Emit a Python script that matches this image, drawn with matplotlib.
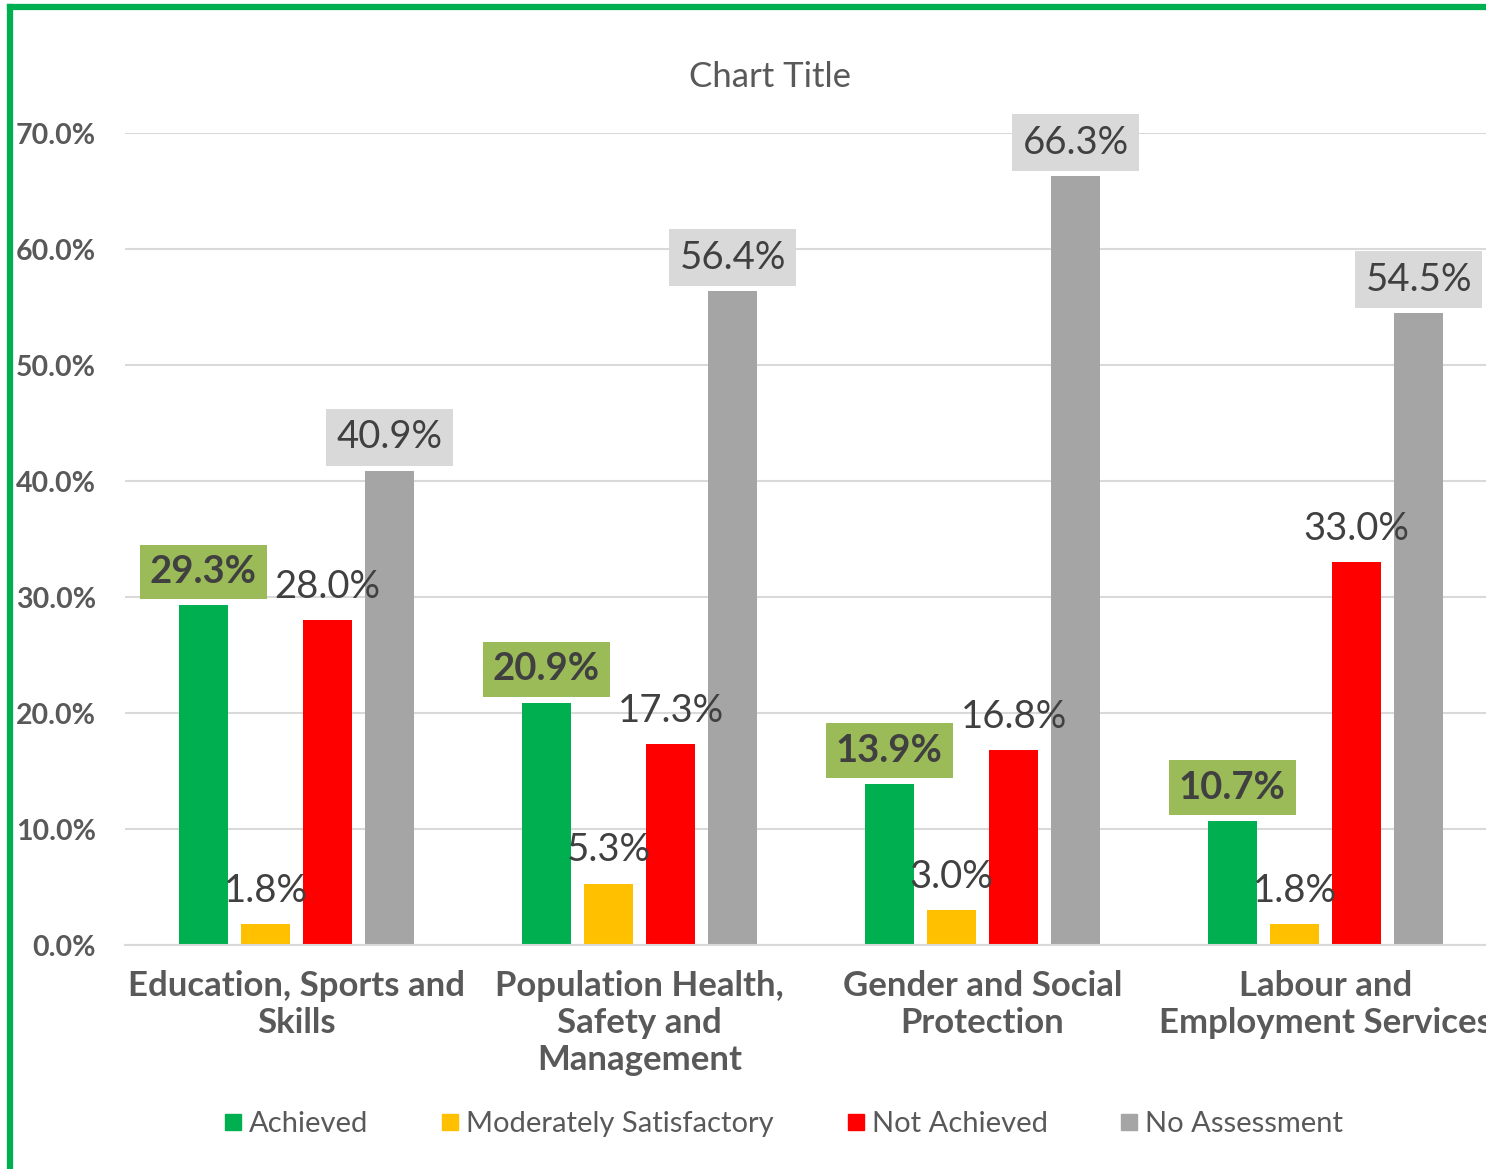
import matplotlib.pyplot as plt
import numpy as np
from matplotlib.lines import Line2D

plt.rcParams['font.family'] = ['Lato', 'DejaVu Sans']

# Dados
categorias = ['Education, Sports and\nSkills',
              'Population Health,\nSafety and\nManagement',
              'Gender and Social\nProtection',
              'Labour and\nEmployment Services']
series = ['Achieved', 'Moderately Satisfactory', 'Not Achieved', 'No Assessment']
achieved = [29.3, 20.9, 13.9, 10.7]
moderately = [1.8, 5.3, 3.0, 1.8]
not_achieved = [28.0, 17.3, 16.8, 33.0]
no_assessment = [40.9, 56.4, 66.3, 54.5]
valores = [achieved, moderately, not_achieved, no_assessment]

cores = ['#00B050', '#FFC000', '#FF0000', '#A5A5A5']
caixas = ['#9BBB59', None, None, '#D9D9D9']
texto_cor = '#404040'
eixo_cor = '#595959'

fig = plt.figure(figsize=(14.86, 11.69), dpi=100)
ax = fig.add_axes([125 / 1486, 1 - 945 / 1169, 1372 / 1486, (945 - 133) / 1169])

x = np.arange(len(categorias))
largura = 0.143
passo = 0.181

for i, (nome, vals, cor) in enumerate(zip(series, valores, cores)):
    pos = x + (i - 1.5) * passo
    ax.bar(pos, vals, width=largura, color=cor, label=nome, zorder=2)
    for px, v in zip(pos, vals):
        box = None
        if caixas[i] is not None:
            box = dict(boxstyle='square,pad=0.27', facecolor=caixas[i], edgecolor='none')
        ax.annotate(f'{v:.1f}%', (px, v), xytext=(0, 16), textcoords='offset points',
                    ha='center', va='baseline', fontsize=27.5,
                    fontweight='bold' if i == 0 else 'normal',
                    color=texto_cor, bbox=box, zorder=3)

ax.set_ylim(0, 70)
ax.set_xlim(-0.5, len(categorias) - 0.5)
ax.set_yticks(np.arange(0, 71, 10))
ax.set_yticklabels([f'{t:.1f}%' for t in np.arange(0, 71, 10)],
                   fontsize=20.5, fontweight='bold', color=eixo_cor)
ax.set_xticks(x)
ax.set_xticklabels(categorias, fontsize=25, fontweight='bold', color=eixo_cor, linespacing=1.2)
ax.tick_params(axis='y', length=0, pad=21)
ax.tick_params(axis='x', length=0, pad=18)
ax.yaxis.grid(True, color='#D9D9D9', linewidth=1.5, zorder=0)
ax.set_axisbelow(True)
for s in ['top', 'right', 'left']:
    ax.spines[s].set_visible(False)
ax.spines['bottom'].set_color('#D9D9D9')
ax.spines['bottom'].set_linewidth(1.5)

fig.text(770 / 1486, 1 - 77 / 1169, 'Chart Title', ha='center', va='center',
         fontsize=25, color=eixo_cor)

# Legenda
handles = [Line2D([0], [0], marker='s', color='w', markerfacecolor=c, markeredgecolor=c,
                  markersize=12, label=n) for c, n in zip(cores, series)]
fig.legend(handles=handles, loc='center', bbox_to_anchor=(784 / 1486, 1 - 1124 / 1169),
           ncol=4, frameon=False, fontsize=21, labelcolor=eixo_cor,
           handlelength=0.6, handletextpad=0.25, columnspacing=2.5)

# Moldura verde
fig.add_artist(Line2D([10 / 1486, 10 / 1486], [0, 1 - 6.5 / 1169], color='#00B050',
                      linewidth=4.5, transform=fig.transFigure, solid_capstyle='projecting'))
fig.add_artist(Line2D([10 / 1486, 1], [1 - 6.5 / 1169, 1 - 6.5 / 1169], color='#00B050',
                      linewidth=4.5, transform=fig.transFigure, solid_capstyle='projecting'))

fig.savefig('out.png', dpi=100)
